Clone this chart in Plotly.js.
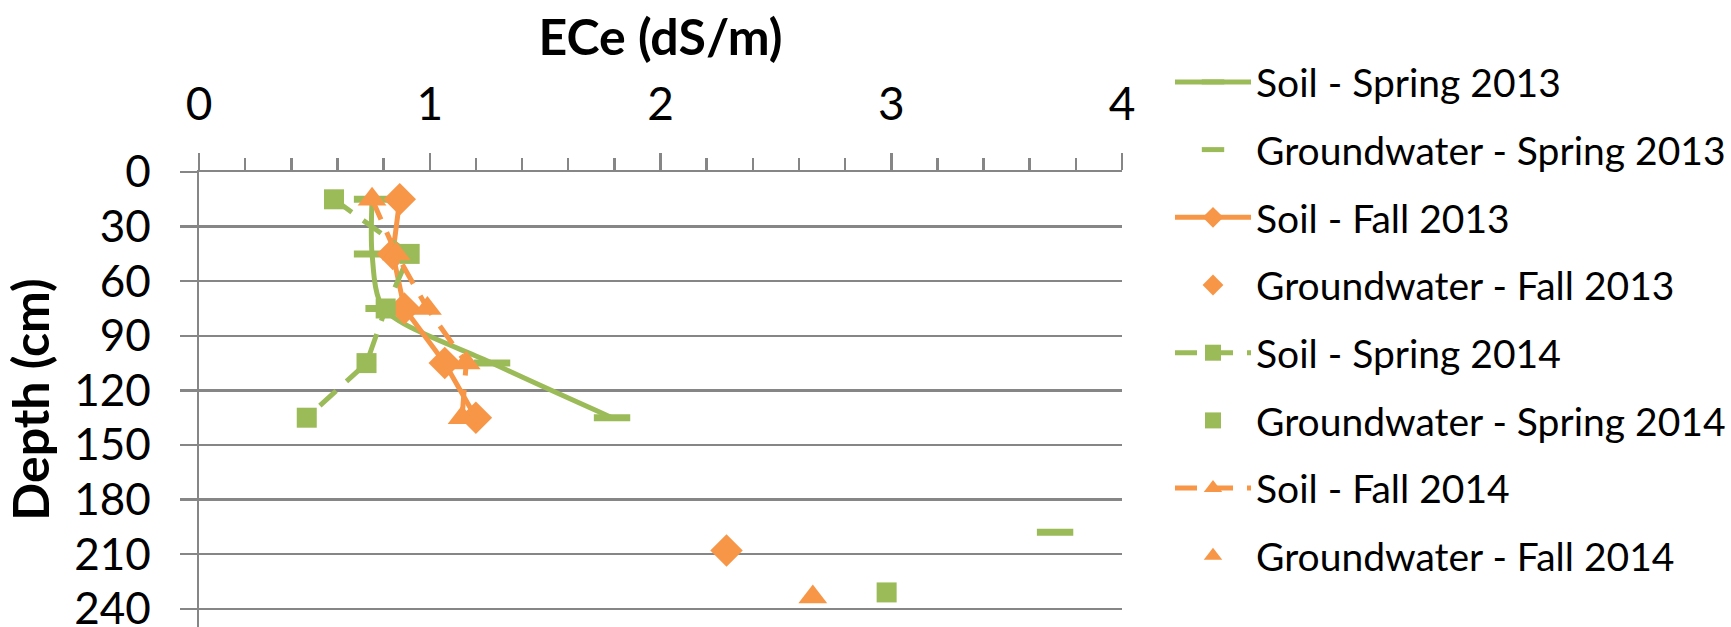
<!DOCTYPE html>
<html>
<head>
<meta charset="utf-8">
<script src="https://cdn.plot.ly/plotly-3.0.1.min.js"></script>
<style>html,body{margin:0;padding:0;background:#fff;}#chart{width:1731px;height:627px;}</style>
</head>
<body>
<div id="chart"></div>
<script>
// Depths (cm) of soil samples
const soilDepth = [15, 45, 75, 105, 135];
// ECe values (dS/m)
const soilSpring2013 = [0.75, 0.75, 0.80, 1.27, 1.79];
const soilFall2013 = [0.87, 0.84, 0.89, 1.065, 1.20];
const soilSpring2014 = [0.585, 0.913, 0.809, 0.726, 0.467];
const soilFall2014 = [0.75, 0.855, 0.99, 1.158, 1.14];
// Groundwater points: ECe and depth
const gwSpring2013 = {x: [3.71], y: [198]};
const gwFall2013 = {x: [2.286], y: [208]};
const gwSpring2014 = {x: [2.98], y: [231]};
const gwFall2014 = {x: [2.66], y: [233.5]};
const xTicks = [0, 1, 2, 3, 4];
const yTicks = [0, 30, 60, 90, 120, 150, 180, 210, 240];

const green = '#9BBB59';
const orange = '#F79646';

const traces = [
  {name: 'Soil - Spring 2013', x: soilSpring2013, y: soilDepth, mode: 'lines+markers',
   line: {color: green, width: 5, shape: 'spline', smoothing: 0.8},
   marker: {symbol: 'line-ew', size: 26, color: green, line: {color: green, width: 7}}, legendgroup: 'a'},
  {name: 'Groundwater - Spring 2013', x: gwSpring2013.x, y: gwSpring2013.y, mode: 'markers',
   marker: {symbol: 'line-ew', size: 26, color: green, line: {color: green, width: 7}}, legendgroup: 'b'},
  {name: 'Soil - Fall 2013', x: soilFall2013, y: soilDepth, mode: 'lines+markers',
   line: {color: orange, width: 5},
   marker: {symbol: 'diamond', size: 25, color: orange}, legendgroup: 'c'},
  {name: 'Groundwater - Fall 2013', x: gwFall2013.x, y: gwFall2013.y, mode: 'markers',
   marker: {symbol: 'diamond', size: 25, color: orange}, legendgroup: 'd'},
  {name: 'Soil - Spring 2014', x: soilSpring2014, y: soilDepth, mode: 'lines+markers',
   line: {color: green, width: 5, dash: '22px,14px'},
   marker: {symbol: 'square', size: 20, color: green}, legendgroup: 'e'},
  {name: 'Groundwater - Spring 2014', x: gwSpring2014.x, y: gwSpring2014.y, mode: 'markers',
   marker: {symbol: 'square', size: 20, color: green}, legendgroup: 'f'},
  {name: 'Soil - Fall 2014', x: soilFall2014, y: soilDepth, mode: 'lines+markers',
   line: {color: orange, width: 5, dash: '22px,14px'},
   marker: {symbol: 'triangle-up', size: 25, color: orange}, legendgroup: 'g'},
  {name: 'Groundwater - Fall 2014', x: gwFall2014.x, y: gwFall2014.y, mode: 'markers',
   marker: {symbol: 'triangle-up', size: 25, color: orange}, legendgroup: 'h'}
];

const layout = {
  width: 1731, height: 627,
  margin: {l: 199, r: 608, t: 172, b: 0, pad: 0},
  paper_bgcolor: '#fff', plot_bgcolor: '#fff',
  font: {family: 'Lato, "DejaVu Sans", sans-serif', color: '#000'},
  showlegend: true,
  legend: {x: 1.052, xanchor: 'left', y: 1.268, yanchor: 'top', font: {size: 39, family: 'Lato'},
           traceorder: 'grouped', tracegroupgap: 14, itemwidth: 76, maxheight: 620,
           bgcolor: 'rgba(0,0,0,0)'},
  xaxis: {
    side: 'top', range: [0, 4], tickvals: xTicks, ticktext: xTicks.map(String),
    showgrid: false, zeroline: false, showline: true, linecolor: '#868686', linewidth: 2.5,
    ticks: 'outside', ticklen: 17, tickwidth: 2.5, tickcolor: '#868686',
    minor: {dtick: 0.2, ticks: 'outside', ticklen: 12, tickwidth: 2.5, tickcolor: '#868686', showgrid: false},
    tickfont: {size: 46, family: 'Lato'}, ticklabelstandoff: 14,
    title: {text: '<b>ECe (dS/m)</b>', font: {size: 50, family: 'Lato'}, standoff: 4}
  },
  yaxis: {
    range: [250, 0], tickvals: yTicks, ticktext: yTicks.map(String),
    showgrid: true, gridcolor: '#868686', gridwidth: 2.5, zeroline: false,
    showline: true, linecolor: '#868686', linewidth: 2.5,
    ticks: 'outside', ticklen: 17, tickwidth: 2.5, tickcolor: '#868686',
    tickfont: {size: 44, family: 'Lato'}, ticklabelstandoff: 20, ticklabeloverflow: 'allow',
    title: {text: '<b>Depth (cm)</b>', font: {size: 50, family: 'Lato'}, standoff: 10}
  }
};

Plotly.newPlot('chart', traces, layout, {staticPlot: true, displayModeBar: false});
</script>
</body>
</html>
